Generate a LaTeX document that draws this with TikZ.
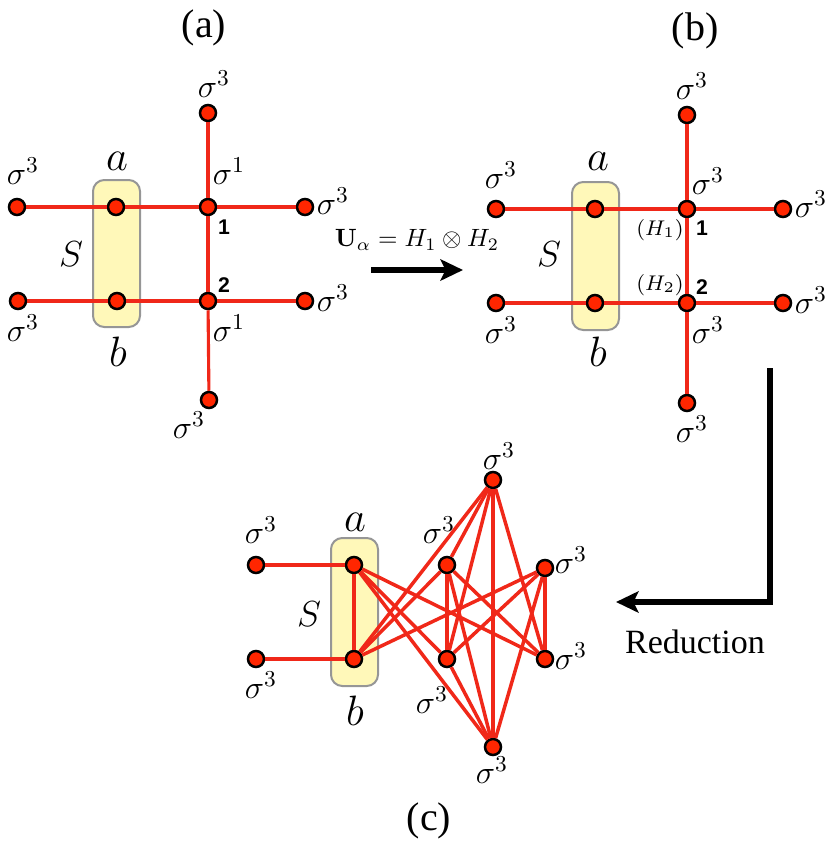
\RequirePackage{fix-cm}
\documentclass[tikz,border=0pt]{standalone}
\usepackage[no-math]{fontspec}
\setmainfont{Liberation Serif}
\newfontfamily\sitefont{Liberation Sans}
\usepackage{amsmath,amssymb}
\usepackage{xcolor}
\usetikzlibrary{positioning,arrows.meta}
\definecolor{dotred}{RGB}{255,38,0}
\definecolor{linkred}{RGB}{240,40,25}
\definecolor{boxyellow}{RGB}{255,248,185}
\definecolor{boxgray}{RGB}{150,150,150}

\begin{document}
\begin{tikzpicture}[x=0.4pt,y=-0.4pt,
	dot/.style={circle,fill=dotred,draw=black,line width=1pt,minimum size=6.4pt,inner sep=0pt},
	link/.style={draw=linkred,line width=1.25pt},
	sbox/.style={fill=boxyellow,draw=boxgray,line width=0.8pt,rounded corners=4.5pt},
	lab/.style={inner sep=0pt,font=\fontsize{13}{13}\selectfont},
	big/.style={inner sep=0pt,font=\fontsize{17}{17}\selectfont},
	slab/.style={inner sep=0pt,font=\fontsize{14.5}{14.5}\selectfont},
	hlab/.style={inner sep=0pt,font=\fontsize{8.5}{8.5}\selectfont},
	num/.style={inner sep=0pt,font=\sitefont\bfseries\fontsize{8.5}{8.5}\selectfont},
	title/.style={inner sep=0pt,font=\fontsize{16}{16}\selectfont},
	bigarrow/.style={line width=2.6pt,-{Stealth[length=9pt,width=8.5pt,inset=2pt]}}]
	\useasboundingbox (0,0) rectangle (830,848);

	% (a)
	\draw[sbox] (93,180) rectangle (140,327);
	\foreach \n/\x/\y in {A-top/208/113, A-l1/17/207, A-a/116/207, A-1/208/207, A-r1/305/207,
		A-l2/18/301, A-b/117/301, A-2/208/301, A-r2/305/301, A-bot/209/400}
		{\node[dot] (\n) at (\x,\y) {};}
	\foreach \u/\v in {A-l1/A-a, A-a/A-1, A-1/A-r1, A-l2/A-b, A-b/A-2, A-2/A-r2, A-top/A-1, A-1/A-2, A-2/A-bot}
		{\draw[link] (\u) -- (\v);}
	\node[title] (A-title) at (204,28) {(a)};
	\node[lab] (A-s-top) at (214,84) {$\sigma^3$};
	\node[lab] (A-s-l1) at (23,171) {$\sigma^3$};
	\node[lab] (A-s-1) at (229,171) {$\sigma^1$};
	\node[lab] (A-s-r1) at (333,201) {$\sigma^3$};
	\node[lab] (A-s-l2) at (23,328) {$\sigma^3$};
	\node[lab] (A-s-2) at (229,328) {$\sigma^1$};
	\node[lab] (A-s-r2) at (333,298) {$\sigma^3$};
	\node[lab] (A-s-bot) at (189,425) {$\sigma^3$};
	\node[num] (A-n1) at (224,227) {1};
	\node[num] (A-n2) at (224,285) {2};
	\node[big] (A-la) at (117,161) {$a$};
	\node[big] (A-lb) at (118,352) {$b$};
	\node[slab] (A-lS) at (71,254) {$S$};

	% unitary
	\coordinate (U-start) at (371,270);
	\coordinate (U-end) at (463,270);
	\draw[bigarrow] (U-start) -- (U-end);
	\node[inner sep=0pt,font=\fontsize{10}{10}\selectfont] (U-lab) at (417,240) {$\mathbf{U}_\alpha = H_1\otimes H_2$};

	% (b)
	\draw[sbox] (572,182) rectangle (619,330);
	\foreach \n/\x/\y in {B-top/687/115, B-l1/496/209, B-a/595/209, B-1/687/209, B-r1/783/209,
		B-l2/496/303, B-b/595/303, B-2/687/303, B-r2/783/303, B-bot/687/403}
		{\node[dot] (\n) at (\x,\y) {};}
	\foreach \u/\v in {B-l1/B-a, B-a/B-1, B-1/B-r1, B-l2/B-b, B-b/B-2, B-2/B-r2, B-top/B-1, B-1/B-2, B-2/B-bot}
		{\draw[link] (\u) -- (\v);}
	\node[title] (B-title) at (695,31) {(b)};
	\node[lab] (B-s-top) at (692,86) {$\sigma^3$};
	\node[lab] (B-s-l1) at (501,175) {$\sigma^3$};
	\node[lab] (B-s-1) at (708,181) {$\sigma^3$};
	\node[lab] (B-s-r1) at (811,204) {$\sigma^3$};
	\node[lab] (B-s-l2) at (501,330) {$\sigma^3$};
	\node[lab] (B-s-2) at (708,330) {$\sigma^3$};
	\node[lab] (B-s-r2) at (811,300) {$\sigma^3$};
	\node[lab] (B-s-bot) at (692,429) {$\sigma^3$};
	\node[hlab] (B-h1) at (660,230) {$(H_1)$};
	\node[hlab] (B-h2) at (660,285) {$(H_2)$};
	\node[num] (B-n1) at (702,228) {1};
	\node[num] (B-n2) at (702,287) {2};
	\node[big] (B-la) at (598,161) {$a$};
	\node[big] (B-lb) at (598,352) {$b$};
	\node[slab] (B-lS) at (549,254) {$S$};

	% reduction
	\coordinate (R-top) at (770,368);
	\coordinate (R-end) at (616,602);
	\draw[bigarrow,line join=miter] (R-top) |- (R-end);
	\node[inner sep=0pt,font=\fontsize{13.6}{14}\selectfont] (R-lab) at (695,642) {Reduction};

	% (c)
	\draw[sbox] (331,538) rectangle (378,686);
	\foreach \n/\x/\y in {C-l1/256/565, C-l2/256/659, C-a/354/565, C-b/354/659, C-t/493/480,
		C-L1/447/565, C-R1/545/568, C-L2/447/659, C-R2/545/659, C-bot/493/747}
		{\node[dot] (\n) at (\x,\y) {};}
	\foreach \u/\v in {C-l1/C-a, C-l2/C-b, C-a/C-b, C-a/C-L2, C-a/C-R2, C-a/C-bot,
		C-b/C-t, C-b/C-L1, C-b/C-R1, C-t/C-L1, C-t/C-L2, C-t/C-bot, C-t/C-R2,
		C-bot/C-L1, C-bot/C-L2, C-bot/C-R1, C-L1/C-L2, C-L1/C-R2, C-L2/C-R1, C-R1/C-R2}
		{\draw[link,line width=1.4pt] (\u) -- (\v);}
	\node[lab] (C-s-l1) at (261,530) {$\sigma^3$};
	\node[lab] (C-s-l2) at (261,685) {$\sigma^3$};
	\node[lab] (C-s-t) at (499,456) {$\sigma^3$};
	\node[lab] (C-s-L1) at (439,530) {$\sigma^3$};
	\node[lab] (C-s-R1) at (571,560) {$\sigma^3$};
	\node[lab] (C-s-R2) at (571,656) {$\sigma^3$};
	\node[lab] (C-s-L2) at (432,700) {$\sigma^3$};
	\node[lab] (C-s-bot) at (492,770) {$\sigma^3$};
	\node[big] (C-la) at (355,522) {$a$};
	\node[big] (C-lb) at (355,711) {$b$};
	\node[slab] (C-lS) at (309,614) {$S$};
	\node[title] (C-title) at (429,821) {(c)};
\end{tikzpicture}
\end{document}
